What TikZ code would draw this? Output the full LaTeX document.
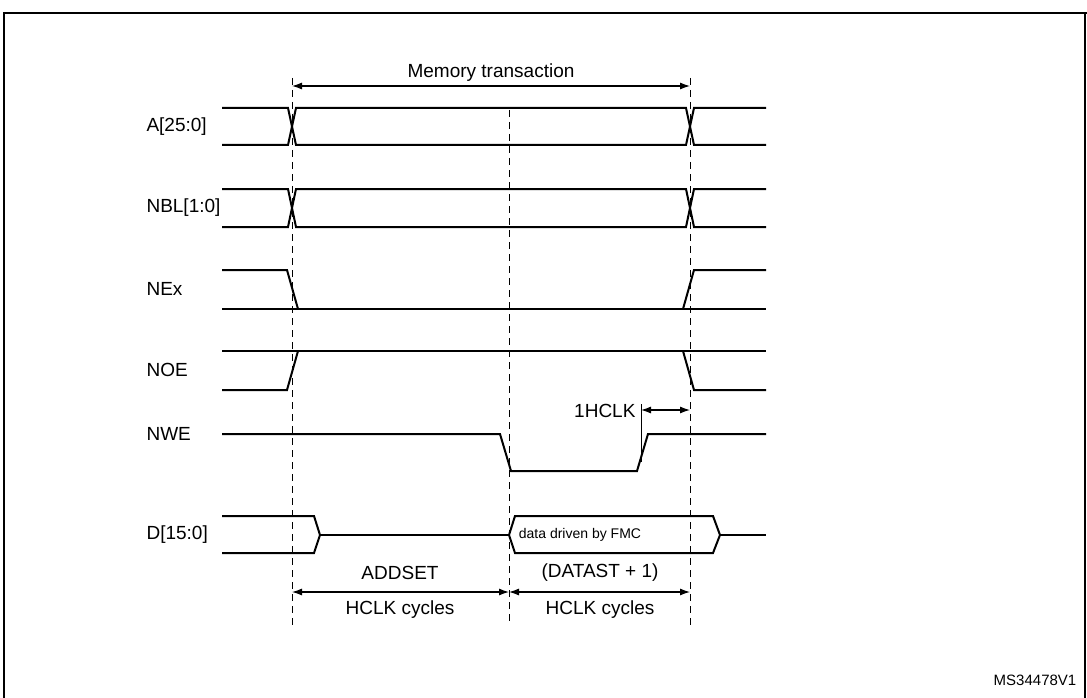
\documentclass[tikz,border=0pt]{standalone}
\usepackage{fontspec}
\setmainfont{Liberation Sans}
\usetikzlibrary{arrows.meta}
\begin{document}
\begin{tikzpicture}[x=1pt,y=-1pt,
    sig/.style={line width=2pt},
    guide/.style={line width=0.9pt, dash pattern=on 7pt off 5pt},
    span/.style={line width=1.1pt, {Latex[length=10pt,width=7pt]}-{Latex[length=10pt,width=7pt]}},
    txt/.style={font=\fontsize{19}{22}\selectfont},
    lbl/.style={txt, anchor=west}]
    \useasboundingbox (0,0) rectangle (1087,698);
    \draw[line width=2pt] (4,698) -- (4,13) -- (1087,13);
    \draw[line width=2pt] (1085,13) -- (1085,698);
    % time marks
    \def\Ta{292}
    \def\Tb{509}
    \def\Tc{690}
    \def\L{222}
    \def\R{766}
    \coordinate (t1) at (\Ta,86);
    \coordinate (t2) at (\Tb,592);
    \coordinate (t3) at (\Tc,86);
    \draw[guide] (\Ta,78) -- (\Ta,625);
    \draw[guide] (\Tb,110) -- (\Tb,625);
    \draw[guide] (\Tc,78) -- (\Tc,625);
    % memory transaction
    \draw[span] (t1) -- node[above=1pt, txt] (mt) {Memory transaction} (t3);
    % A and NBL buses
    \foreach \hy/\ly/\name in {108/145/A[25:0], 189/227/NBL[1:0]} {
        \draw[sig] (\L,\hy) -- (288,\hy) -- (296,\ly) -- (686,\ly) -- (694,\hy) -- (\R,\hy);
        \draw[sig] (\L,\ly) -- (288,\ly) -- (296,\hy) -- (686,\hy) -- (694,\ly) -- (\R,\ly);
        \node[lbl] at (143,{(\hy+\ly)/2}) {\name};
    }
    % NEx
    \draw[sig] (\L,270) -- (287,270) -- (298,309);
    \draw[sig] (\L,309) -- (\R,309);
    \draw[sig] (683,309) -- (694,270) -- (\R,270);
    \node[lbl] (nex) at (143,289) {NEx};
    % NOE
    \draw[sig] (\L,351) -- (\R,351);
    \draw[sig] (\L,390) -- (287,390) -- (298,351);
    \draw[sig] (683,351) -- (694,390) -- (\R,390);
    \node[lbl] (noe) at (143,370) {NOE};
    % NWE
    \draw[sig] (\L,434) -- (500,434) -- (511,471) -- (637,471) -- (648,434) -- (\R,434);
    \node[lbl] (nwe) at (143,434) {NWE};
    \coordinate (hk) at (641,410);
    \draw[line width=0.9pt] (641,404) -- (641,462);
    \draw[span] (hk) -- (\Tc,410);
    \node[txt, anchor=east] (hclk) at (639,411) {1HCLK};
    % D
    \draw[sig] (\L,516) -- (314,516) -- (320,535) -- (314,553) -- (\L,553);
    \draw[sig] (320,535) -- (\Tb,535);
    \draw[sig] (\Tb,535) -- (515,516) -- (713,516) -- (720,535) -- (713,553) -- (515,553) -- cycle;
    \draw[sig] (720,535) -- (\R,535);
    \node[font=\fontsize{14}{16}\selectfont] (dat) at (580,535) {data driven by FMC};
    \node[lbl] (d) at (143,535) {D[15:0]};
    % cycles
    \draw[span] (\Ta,592) -- (t2);
    \draw[span] (t2) -- (\Tc,592);
    \node[txt] (as) at (400,573) {ADDSET};
    \node[txt] (ds) at (600,573) {(DATAST + 1)};
    \node[txt] (c1) at (400,610) {HCLK cycles};
    \node[txt] (c2) at (600,610) {HCLK cycles};
    \node[font=\fontsize{15}{17}\selectfont] (ms) at (1035,680) {MS34478V1};
\end{tikzpicture}
\end{document}
